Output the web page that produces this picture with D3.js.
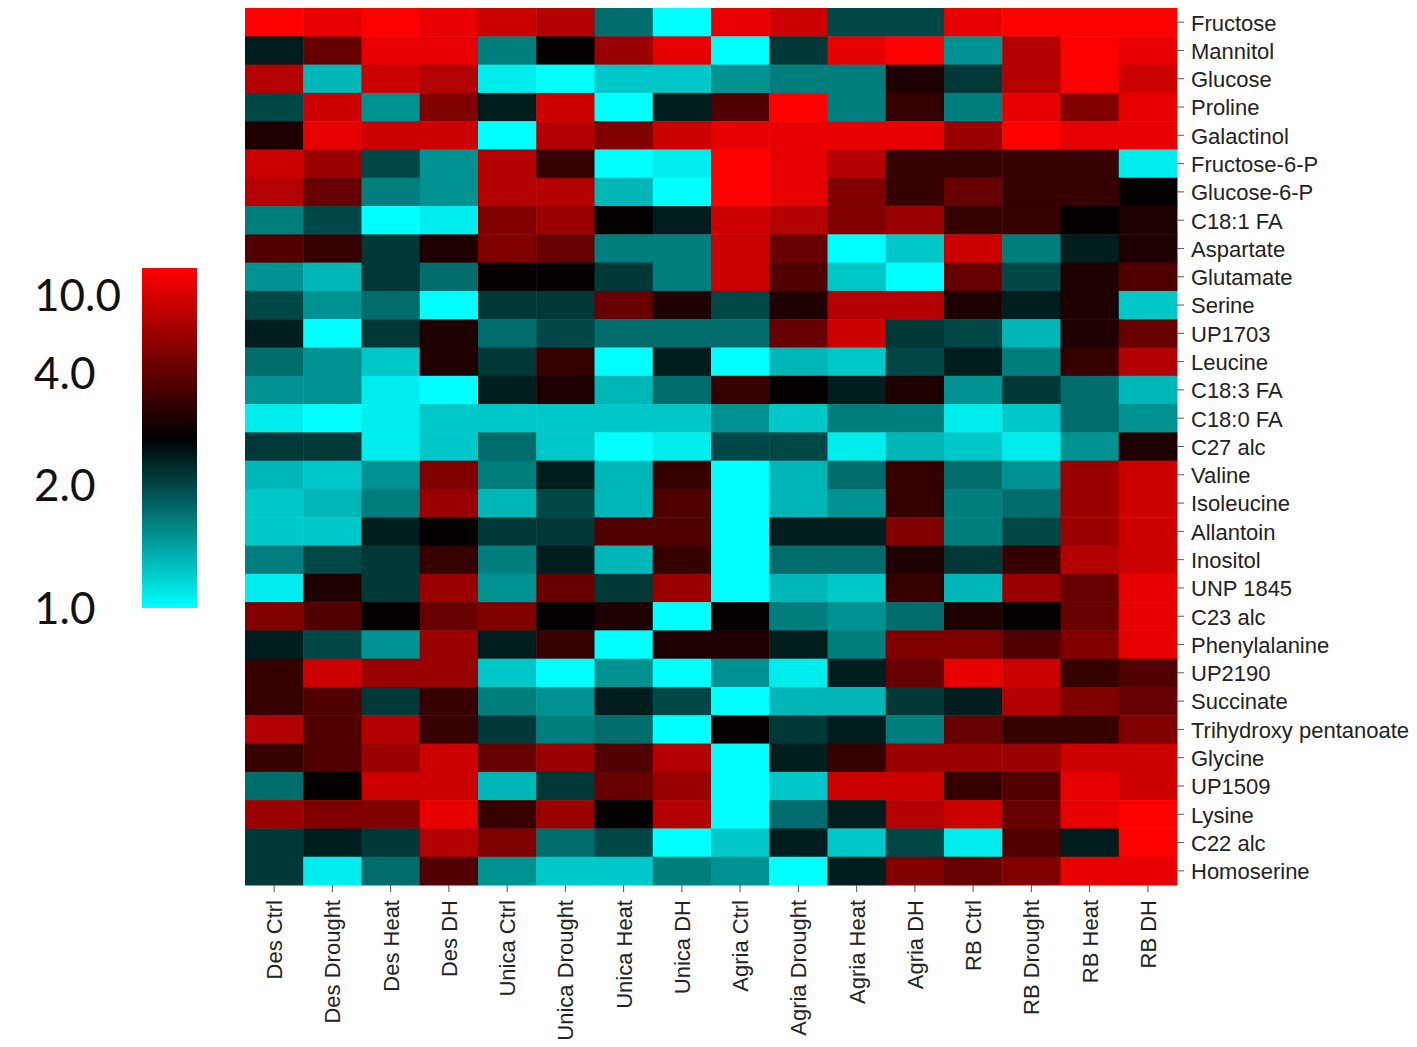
<!DOCTYPE html>
<html>
<head>
<meta charset="utf-8">
<script src="https://cdn.jsdelivr.net/npm/d3@7"></script>
<style>
  body { margin: 0; background: #fff; }
  .axis text { font-family: "Liberation Sans", Arial, sans-serif; font-size: 22px; fill: #222; }
  .axis line { stroke: #555; }
  .legend-label { font-family: Lato, "Open Sans", sans-serif; font-size: 44px; fill: #111; }
</style>
</head>
<body>
<div id="chart"></div>
<script>
/* DATA */
const metabolites = ["Fructose", "Mannitol", "Glucose", "Proline", "Galactinol", "Fructose-6-P",
  "Glucose-6-P", "C18:1 FA", "Aspartate", "Glutamate", "Serine", "UP1703", "Leucine", "C18:3 FA",
  "C18:0 FA", "C27 alc", "Valine", "Isoleucine", "Allantoin", "Inositol", "UNP 1845", "C23 alc",
  "Phenylalanine", "UP2190", "Succinate", "Trihydroxy pentanoate", "Glycine", "UP1509", "Lysine",
  "C22 alc", "Homoserine"];

const conditions = ["Des Ctrl", "Des Drought", "Des Heat", "Des DH",
  "Unica Ctrl", "Unica Drought", "Unica Heat", "Unica DH",
  "Agria Ctrl", "Agria Drought", "Agria Heat", "Agria DH",
  "RB Ctrl", "RB Drought", "RB Heat", "RB DH"];

// fold change per metabolite (rows) and condition (columns)
const foldChange = [
  [12, 10.8, 12, 10.8, 9.5, 8.2, 1.8, 1.0, 10.8, 9.5, 2.0, 2.0, 10.8, 12, 12, 12],
  [2.5, 4.3, 10.8, 10.8, 1.7, 2.9, 6.9, 10.8, 1.0, 2.2, 10.8, 12, 1.6, 8.2, 12, 10.8],
  [8.2, 1.4, 9.5, 8.2, 1.1, 1.0, 1.3, 1.3, 1.6, 1.7, 1.7, 3.2, 2.2, 8.2, 12, 9.5],
  [2.0, 9.5, 1.6, 5.6, 2.5, 9.5, 1.0, 2.5, 3.8, 12, 1.7, 3.5, 1.7, 10.8, 5.6, 10.8],
  [3.2, 10.8, 9.5, 9.5, 1.0, 8.2, 5.6, 9.5, 10.8, 10.8, 10.8, 10.8, 6.9, 12, 10.8, 10.8],
  [9.5, 6.9, 2.0, 1.6, 8.2, 3.5, 1.0, 1.1, 12, 10.8, 8.2, 3.5, 3.5, 3.5, 3.5, 1.1],
  [8.2, 4.3, 1.7, 1.6, 8.2, 8.2, 1.4, 1.0, 12, 10.8, 5.6, 3.5, 4.3, 3.5, 3.5, 2.9],
  [1.7, 2.0, 1.0, 1.1, 5.6, 6.9, 2.9, 2.5, 9.5, 8.2, 5.6, 6.9, 3.5, 3.5, 2.9, 3.2],
  [3.8, 3.5, 2.2, 3.2, 5.6, 4.3, 1.7, 1.7, 9.5, 4.3, 1.0, 1.3, 9.5, 1.7, 2.5, 3.2],
  [1.6, 1.4, 2.2, 1.8, 2.9, 2.9, 2.2, 1.7, 9.5, 3.8, 1.3, 1.0, 4.3, 2.0, 3.2, 3.8],
  [2.0, 1.6, 1.8, 1.0, 2.2, 2.2, 4.3, 3.2, 2.0, 3.2, 8.2, 8.2, 3.2, 2.5, 3.2, 1.3],
  [2.5, 1.0, 2.2, 3.2, 1.8, 2.0, 1.8, 1.8, 1.8, 4.3, 9.5, 2.2, 2.0, 1.4, 3.2, 4.3],
  [1.8, 1.6, 1.3, 3.2, 2.2, 3.5, 1.0, 2.5, 1.0, 1.4, 1.3, 2.0, 2.5, 1.7, 3.5, 8.2],
  [1.6, 1.6, 1.1, 1.0, 2.5, 3.2, 1.4, 1.8, 3.5, 2.9, 2.5, 3.2, 1.6, 2.2, 1.8, 1.4],
  [1.1, 1.0, 1.1, 1.3, 1.3, 1.3, 1.3, 1.3, 1.6, 1.3, 1.7, 1.7, 1.1, 1.3, 1.8, 1.6],
  [2.2, 2.2, 1.1, 1.3, 1.8, 1.3, 1.0, 1.1, 2.0, 2.0, 1.1, 1.4, 1.3, 1.1, 1.6, 3.2],
  [1.4, 1.3, 1.6, 5.6, 1.7, 2.5, 1.4, 3.5, 1.0, 1.4, 1.8, 3.5, 1.8, 1.6, 6.9, 9.5],
  [1.3, 1.4, 1.7, 6.9, 1.4, 2.0, 1.4, 3.8, 1.0, 1.4, 1.6, 3.5, 1.7, 1.8, 6.9, 9.5],
  [1.3, 1.3, 2.5, 2.9, 2.2, 2.2, 3.8, 3.8, 1.0, 2.5, 2.5, 5.6, 1.7, 2.0, 6.9, 9.5],
  [1.7, 2.0, 2.2, 3.5, 1.7, 2.5, 1.4, 3.5, 1.0, 1.8, 1.8, 3.2, 2.2, 3.5, 8.2, 9.5],
  [1.1, 3.2, 2.2, 6.9, 1.6, 4.3, 2.2, 6.9, 1.0, 1.4, 1.3, 3.5, 1.4, 6.9, 4.3, 10.8],
  [5.6, 3.8, 2.9, 4.3, 5.6, 2.9, 3.2, 1.0, 2.9, 1.7, 1.6, 1.8, 3.2, 2.9, 4.3, 10.8],
  [2.5, 2.0, 1.6, 6.9, 2.5, 3.5, 1.0, 3.2, 3.2, 2.5, 1.7, 5.6, 5.6, 3.8, 5.6, 10.8],
  [3.5, 9.5, 6.9, 6.9, 1.3, 1.0, 1.6, 1.0, 1.6, 1.1, 2.5, 4.3, 10.8, 9.5, 3.5, 3.8],
  [3.5, 3.8, 2.2, 3.5, 1.7, 1.6, 2.5, 2.0, 1.0, 1.4, 1.4, 2.2, 2.5, 8.2, 5.6, 4.3],
  [8.2, 3.8, 8.2, 3.5, 2.2, 1.7, 1.8, 1.0, 2.9, 2.2, 2.5, 1.7, 4.3, 3.5, 3.5, 5.6],
  [3.5, 3.8, 6.9, 9.5, 4.3, 6.9, 3.8, 8.2, 1.0, 2.5, 3.5, 6.9, 6.9, 6.9, 9.5, 9.5],
  [1.8, 2.9, 9.5, 9.5, 1.4, 2.2, 4.3, 6.9, 1.0, 1.3, 9.5, 9.5, 3.5, 3.8, 10.8, 9.5],
  [6.9, 5.6, 5.6, 10.8, 3.5, 6.9, 2.9, 8.2, 1.0, 1.8, 2.5, 8.2, 9.5, 4.3, 10.8, 12],
  [2.2, 2.5, 2.2, 8.2, 5.6, 1.8, 2.0, 1.0, 1.3, 2.5, 1.3, 2.0, 1.1, 3.8, 2.5, 12],
  [2.2, 1.1, 1.8, 3.8, 1.6, 1.3, 1.3, 1.7, 1.6, 1.0, 2.5, 5.6, 4.3, 5.6, 10.8, 10.8]
];

const legendTicks = [1, 2, 4, 10];

/* LAYOUT */
const width = 1417,
  height = 1047,
  margin = { top: 8, right: 240, bottom: 162, left: 245 };

const svg = d3.select("#chart")
  .append("svg")
  .attr("width", width)
  .attr("height", height);

/* SCALES */
const xScale = d3.scaleBand()
  .domain(conditions)
  .range([margin.left, width - margin.right]);

const yScale = d3.scaleBand()
  .domain(metabolites)
  .range([margin.top, height - margin.bottom]);

// fold change -> position on the colour ramp (0 = cyan, 0.5 = black, 1 = red)
const rampScale = d3.scaleLinear()
  .domain([1, 2, 4, 10, 12])
  .range([0, 0.36, 0.69, 0.92, 1])
  .clamp(true);

const rampColor = d3.scaleLinear()
  .domain([0, 0.5, 1])
  .range(["#00ffff", "#000000", "#ff0000"]);

const colorOf = v => rampColor(rampScale(v));

/* CELLS */
const cells = foldChange.flatMap((row, i) =>
  row.map((v, j) => ({ metabolite: metabolites[i], condition: conditions[j], value: v })));

svg.append("g")
  .selectAll("rect")
  .data(cells)
  .join("rect")
  .attr("x", d => xScale(d.condition))
  .attr("y", d => yScale(d.metabolite))
  .attr("width", xScale.bandwidth() + 0.5)
  .attr("height", yScale.bandwidth() + 0.5)
  .attr("fill", d => colorOf(d.value));

/* AXES */
const yAxisGroup = svg.append("g")
  .attr("class", "axis")
  .attr("transform", `translate(${width - margin.right}, 0)`)
  .call(d3.axisRight(yScale).tickSize(7).tickPadding(7));
yAxisGroup.select(".domain").remove();
yAxisGroup.selectAll("text").attr("dy", "0.38em");

const xAxisGroup = svg.append("g")
  .attr("class", "axis")
  .attr("transform", `translate(0, ${height - margin.bottom})`)
  .call(d3.axisBottom(xScale).tickSize(7).tickPadding(8));
xAxisGroup.select(".domain").remove();
xAxisGroup.selectAll("text")
  .attr("transform", "rotate(-90)")
  .attr("text-anchor", "end")
  .attr("x", -15)
  .attr("y", 0)
  .attr("dy", "0.36em");

/* LEGEND */
const legend = { x: 142, y0: 268, y1: 608, w: 55 };

const legendY = d3.scaleLinear()
  .domain([0, 1])
  .range([legend.y1, legend.y0]);

const grad = svg.append("defs")
  .append("linearGradient")
  .attr("id", "ramp")
  .attr("x1", 0).attr("y1", 1)
  .attr("x2", 0).attr("y2", 0);

grad.selectAll("stop")
  .data(d3.range(0, 1.0001, 0.05))
  .join("stop")
  .attr("offset", d => d)
  .attr("stop-color", d => rampColor(d));

svg.append("rect")
  .attr("x", legend.x)
  .attr("y", legend.y0)
  .attr("width", legend.w)
  .attr("height", legend.y1 - legend.y0)
  .attr("fill", "url(#ramp)");

svg.append("g")
  .selectAll("text")
  .data(legendTicks)
  .join("text")
  .attr("class", "legend-label")
  .attr("x", 34)
  .attr("y", d => legendY(rampScale(d)))
  .attr("dy", "0.36em")
  .text(d3.format(".1f"));
</script>
</body>
</html>
